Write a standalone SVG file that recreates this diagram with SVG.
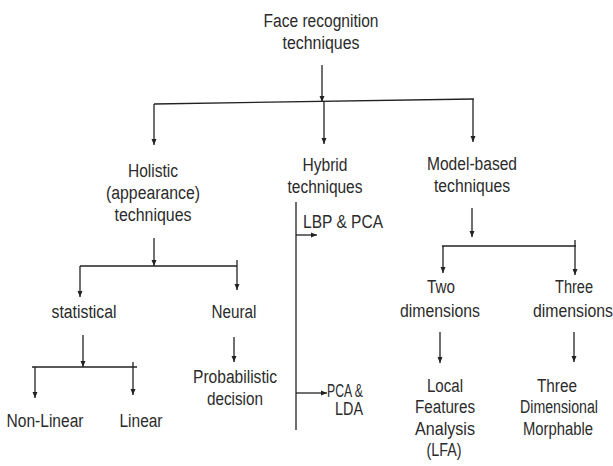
<svg xmlns="http://www.w3.org/2000/svg" width="613" height="466" viewBox="0 0 613 466">
<style>
text{font-family:"Liberation Sans",Arial,sans-serif;font-size:18.8px;fill:#2b2b2b;text-anchor:middle}
.c line{stroke:#222;stroke-width:1.3;fill:none}
.a{marker-end:url(#ah)}
</style>
<defs>
<marker id="ah" markerUnits="userSpaceOnUse" markerWidth="6" markerHeight="6" refX="6" refY="3" orient="auto">
<path d="M0,0.5 L6,3 L0,5.5 z" fill="#222"/>
</marker>
</defs>
<rect width="613" height="466" fill="#fff"/>
<g id="n-root"><text x="321" y="27" textLength="115" lengthAdjust="spacingAndGlyphs">Face recognition</text><text x="321" y="49" textLength="77" lengthAdjust="spacingAndGlyphs">techniques</text></g>
<g id="n-holistic"><text x="153" y="177" textLength="50" lengthAdjust="spacingAndGlyphs">Holistic</text><text x="153" y="199" textLength="94" lengthAdjust="spacingAndGlyphs">(appearance)</text><text x="153" y="221" textLength="77" lengthAdjust="spacingAndGlyphs">techniques</text></g>
<g id="n-hybrid"><text x="325" y="171" textLength="45" lengthAdjust="spacingAndGlyphs">Hybrid</text><text x="325" y="193" textLength="75" lengthAdjust="spacingAndGlyphs">techniques</text></g>
<g id="n-model"><text x="472" y="170" textLength="90" lengthAdjust="spacingAndGlyphs">Model-based</text><text x="472" y="192" textLength="76" lengthAdjust="spacingAndGlyphs">techniques</text></g>
<g id="n-lbp"><text x="343" y="228" textLength="80" lengthAdjust="spacingAndGlyphs">LBP &amp; PCA</text></g>
<g id="n-pcalda"><text x="345" y="397" textLength="36" lengthAdjust="spacingAndGlyphs">PCA &amp;</text><text x="349" y="415" textLength="28" lengthAdjust="spacingAndGlyphs">LDA</text></g>
<g id="n-stat"><text x="84" y="318" textLength="65" lengthAdjust="spacingAndGlyphs">statistical</text></g>
<g id="n-neural"><text x="234" y="318" textLength="45" lengthAdjust="spacingAndGlyphs">Neural</text></g>
<g id="n-prob"><text x="235" y="383" textLength="84" lengthAdjust="spacingAndGlyphs">Probabilistic</text><text x="235" y="405" textLength="56" lengthAdjust="spacingAndGlyphs">decision</text></g>
<g id="n-nonlin"><text x="45" y="427" textLength="77" lengthAdjust="spacingAndGlyphs">Non-Linear</text></g>
<g id="n-lin"><text x="141" y="427" textLength="43" lengthAdjust="spacingAndGlyphs">Linear</text></g>
<g id="n-two"><text x="441" y="293" textLength="28" lengthAdjust="spacingAndGlyphs">Two</text><text x="440" y="317" textLength="80" lengthAdjust="spacingAndGlyphs">dimensions</text></g>
<g id="n-three"><text x="574" y="293" textLength="38" lengthAdjust="spacingAndGlyphs">Three</text><text x="573" y="317" textLength="80" lengthAdjust="spacingAndGlyphs">dimensions</text></g>
<g id="n-lfa"><text x="445" y="392" textLength="36" lengthAdjust="spacingAndGlyphs">Local</text><text x="445" y="413" textLength="60" lengthAdjust="spacingAndGlyphs">Features</text><text x="445" y="435" textLength="60" lengthAdjust="spacingAndGlyphs">Analysis</text><text x="444" y="456" textLength="35" lengthAdjust="spacingAndGlyphs">(LFA)</text></g>
<g id="n-3dm"><text x="557" y="392" textLength="40" lengthAdjust="spacingAndGlyphs">Three</text><text x="559" y="413" textLength="78" lengthAdjust="spacingAndGlyphs">Dimensional</text><text x="558" y="435" textLength="70" lengthAdjust="spacingAndGlyphs">Morphable</text></g>
<g id="connectors" class="c">
<line class="a" x1="322" y1="65" x2="322" y2="102"/>
<line x1="154" y1="104" x2="474" y2="99"/>
<line class="a" x1="154" y1="104" x2="154" y2="145"/>
<line class="a" x1="324" y1="102" x2="324" y2="144"/>
<line class="a" x1="473" y1="99" x2="473" y2="142"/>
<line class="a" x1="154" y1="238" x2="154" y2="266"/>
<line x1="80" y1="266" x2="237" y2="266"/>
<line class="a" x1="80" y1="266" x2="80" y2="297"/>
<line class="a" x1="237" y1="260" x2="237" y2="290"/>
<line x1="296" y1="202" x2="296" y2="430"/>
<line class="a" x1="296" y1="235" x2="317" y2="235"/>
<line class="a" x1="296" y1="393" x2="327" y2="393"/>
<line class="a" x1="472" y1="208" x2="472" y2="237"/>
<line x1="442" y1="246" x2="576" y2="246"/>
<line class="a" x1="443" y1="246" x2="443" y2="273"/>
<line class="a" x1="575" y1="240" x2="575" y2="275"/>
<line class="a" x1="83" y1="335" x2="83" y2="367"/>
<line x1="32" y1="367" x2="137" y2="367"/>
<line class="a" x1="35" y1="367" x2="35" y2="398"/>
<line class="a" x1="133" y1="362" x2="133" y2="395"/>
<line class="a" x1="234" y1="337" x2="234" y2="362"/>
<line class="a" x1="440" y1="332" x2="440" y2="363"/>
<line class="a" x1="574" y1="332" x2="574" y2="362"/>
</g>
</svg>
